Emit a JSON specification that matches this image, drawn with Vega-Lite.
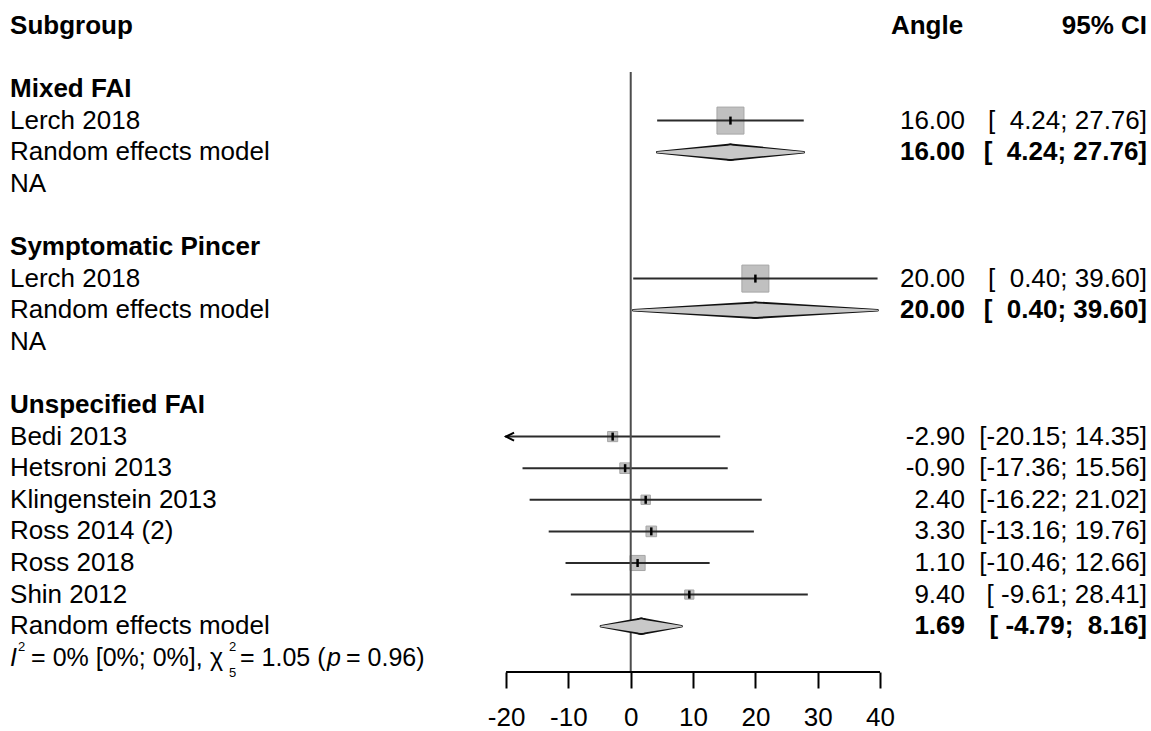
{
  "$schema": "https://vega.github.io/schema/vega-lite/v6.json",
  "width": 1151,
  "height": 672,
  "autosize": {"type": "none"},
  "padding": {"left": 0, "right": 0, "top": 0, "bottom": 59},
  "background": "white",
  "config": {
    "view": {"stroke": null},
    "font": "Liberation Sans",
    "locale": {"number": {"decimal": ".", "thousands": ",", "grouping": [3], "currency": ["$", ""], "minus": "-"}},
    "text": {"font": "Liberation Sans", "fontSize": 26, "color": "#000", "baseline": "middle"}
  },
  "data": {
    "values": [
      {"row": -2, "label": "Subgroup", "kind": "header", "angle": "Angle", "ci": "95% CI"},
      {"row": 0, "label": "Mixed FAI", "kind": "group"},
      {"row": 1, "label": "Lerch 2018", "kind": "study", "est": 16.0, "lower": 4.24, "upper": 27.76, "weight": 100, "ci": "[\u00a0 4.24; 27.76]"},
      {"row": 2, "label": "Random effects model", "kind": "model", "est": 16.0, "lower": 4.24, "upper": 27.76, "ci": "[\u00a0 4.24; 27.76]"},
      {"row": 3, "label": "NA", "kind": "na"},
      {"row": 5, "label": "Symptomatic Pincer", "kind": "group"},
      {"row": 6, "label": "Lerch 2018", "kind": "study", "est": 20.0, "lower": 0.40, "upper": 39.60, "weight": 100, "ci": "[\u00a0 0.40; 39.60]"},
      {"row": 7, "label": "Random effects model", "kind": "model", "est": 20.0, "lower": 0.40, "upper": 39.60, "ci": "[\u00a0 0.40; 39.60]"},
      {"row": 8, "label": "NA", "kind": "na"},
      {"row": 10, "label": "Unspecified FAI", "kind": "group"},
      {"row": 11, "label": "Bedi 2013", "kind": "study", "est": -2.90, "lower": -20.15, "upper": 14.35, "weight": 14.1, "ci": "[-20.15; 14.35]"},
      {"row": 12, "label": "Hetsroni 2013", "kind": "study", "est": -0.90, "lower": -17.36, "upper": 15.56, "weight": 15.5, "ci": "[-17.36; 15.56]"},
      {"row": 13, "label": "Klingenstein 2013", "kind": "study", "est": 2.40, "lower": -16.22, "upper": 21.02, "weight": 12.1, "ci": "[-16.22; 21.02]"},
      {"row": 14, "label": "Ross 2014 (2)", "kind": "study", "est": 3.30, "lower": -13.16, "upper": 19.76, "weight": 15.5, "ci": "[-13.16; 19.76]"},
      {"row": 15, "label": "Ross 2018", "kind": "study", "est": 1.10, "lower": -10.46, "upper": 12.66, "weight": 31.3, "ci": "[-10.46; 12.66]"},
      {"row": 16, "label": "Shin 2012", "kind": "study", "est": 9.40, "lower": -9.61, "upper": 28.41, "weight": 11.6, "ci": "[ -9.61; 28.41]"},
      {"row": 17, "label": "Random effects model", "kind": "model", "est": 1.69, "lower": -4.79, "upper": 8.16, "ci": "[ -4.79; \u00a08.16]"},
      {"row": 18, "kind": "het"}
    ]
  },
  "resolve": {"scale": {"size": "independent"}, "axis": {"x": "independent", "y": "independent"}},
  "layer": [
    {
      "transform": [{"filter": "datum.kind === 'study'"}],
      "mark": {"type": "point", "shape": "square", "filled": true, "fill": "#c0c0c0", "stroke": "#a6a6a6", "strokeWidth": 1, "opacity": 1},
      "encoding": {
        "x": {"field": "est", "type": "quantitative", "scale": {"domain": [-101.19, 83.47], "nice": false, "zero": false}, "axis": null},
        "y": {"field": "row", "type": "quantitative", "scale": {"domain": [-2.816, 18.45], "nice": false, "zero": false, "reverse": true}, "axis": null},
        "size": {"field": "weight", "type": "quantitative", "scale": {"domain": [0, 100], "range": [0, 729]}, "legend": null}
      }
    },
    {
      "transform": [{"filter": "datum.kind === 'study'"}],
      "mark": {"type": "rule", "color": "#2b2b2b", "strokeWidth": 2},
      "encoding": {
        "x": {"field": "lower", "type": "quantitative", "scale": {"domain": [-101.19, 83.47], "nice": false, "zero": false},
          "axis": {"values": [-20, -10, 0, 10, 20, 30, 40], "domain": false, "grid": false, "title": null, "tickSize": 16, "tickWidth": 2, "tickColor": "#000", "labelFontSize": 26, "labelFont": "Liberation Sans", "labelColor": "#000", "labelPadding": 16, "labelFlush": false, "labelOverlap": false, "format": "d"}},
        "x2": {"field": "upper"},
        "y": {"field": "row", "type": "quantitative", "scale": {"domain": [-2.816, 18.45], "nice": false, "zero": false, "reverse": true}, "axis": null}
      }
    },
    {
      "transform": [{"filter": "datum.kind === 'study' && datum.lower < -20"}],
      "mark": {"type": "point", "shape": "M2,-1L0,0L2,1", "filled": false, "stroke": "#000", "strokeWidth": 2, "size": 64, "opacity": 1},
      "encoding": {
        "x": {"datum": -20, "type": "quantitative", "axis": null},
        "y": {"field": "row", "type": "quantitative", "axis": null}
      }
    },
    {
      "transform": [{"filter": "datum.kind === 'header'"}],
      "mark": {"type": "rule", "color": "#4d4d4d", "strokeWidth": 2},
      "encoding": {
        "x": {"datum": 0, "type": "quantitative", "axis": null},
        "y": {"datum": -0.54, "type": "quantitative", "axis": null},
        "y2": {"datum": 18.45}
      }
    },
    {
      "transform": [{"filter": "datum.kind === 'header'"}],
      "mark": {"type": "rule", "color": "#000", "strokeWidth": 2},
      "encoding": {
        "x": {"datum": -20, "type": "quantitative", "axis": null},
        "x2": {"datum": 40},
        "y": {"datum": 18.45, "type": "quantitative", "axis": null}
      }
    },
    {
      "transform": [{"filter": "datum.kind === 'study'"}],
      "mark": {"type": "point", "shape": "M0,-1L0,1", "filled": false, "stroke": "#000", "strokeWidth": 2.5, "size": 64, "opacity": 1},
      "encoding": {
        "x": {"field": "est", "type": "quantitative", "axis": null},
        "y": {"field": "row", "type": "quantitative", "axis": null}
      }
    },
    {
      "transform": [{"filter": "datum.kind === 'model'"}, {"fold": ["lower", "est"], "as": ["key", "value"]}],
      "mark": {"type": "trail", "color": "#111111"},
      "encoding": {
        "x": {"field": "value", "type": "quantitative", "axis": null},
        "y": {"field": "row", "type": "quantitative", "axis": null},
        "detail": {"field": "row", "type": "nominal"},
        "order": {"field": "value", "type": "quantitative"},
        "size": {"field": "key", "type": "ordinal", "scale": {"domain": ["lower", "est"], "range": [2.5, 17.5]}, "legend": null}
      }
    },
    {
      "transform": [{"filter": "datum.kind === 'model'"}, {"fold": ["est", "upper"], "as": ["key", "value"]}],
      "mark": {"type": "trail", "color": "#111111"},
      "encoding": {
        "x": {"field": "value", "type": "quantitative", "axis": null},
        "y": {"field": "row", "type": "quantitative", "axis": null},
        "detail": {"field": "row", "type": "nominal"},
        "order": {"field": "value", "type": "quantitative"},
        "size": {"field": "key", "type": "ordinal", "scale": {"domain": ["upper", "est"], "range": [2.5, 17.5]}, "legend": null}
      }
    },
    {
      "transform": [{"filter": "datum.kind === 'model'"}, {"fold": ["lower", "est"], "as": ["key", "value"]}],
      "mark": {"type": "trail", "color": "#c8c8c8"},
      "encoding": {
        "x": {"field": "value", "type": "quantitative", "axis": null},
        "y": {"field": "row", "type": "quantitative", "axis": null},
        "detail": {"field": "row", "type": "nominal"},
        "order": {"field": "value", "type": "quantitative"},
        "size": {"field": "key", "type": "ordinal", "scale": {"domain": ["lower", "est"], "range": [0, 13.5]}, "legend": null}
      }
    },
    {
      "transform": [{"filter": "datum.kind === 'model'"}, {"fold": ["est", "upper"], "as": ["key", "value"]}],
      "mark": {"type": "trail", "color": "#c8c8c8"},
      "encoding": {
        "x": {"field": "value", "type": "quantitative", "axis": null},
        "y": {"field": "row", "type": "quantitative", "axis": null},
        "detail": {"field": "row", "type": "nominal"},
        "order": {"field": "value", "type": "quantitative"},
        "size": {"field": "key", "type": "ordinal", "scale": {"domain": ["upper", "est"], "range": [0, 13.5]}, "legend": null}
      }
    },
    {
      "transform": [{"filter": "datum.kind === 'study' || datum.kind === 'model' || datum.kind === 'na'"}],
      "mark": {"type": "text", "align": "left"},
      "encoding": {
        "x": {"datum": -99.58, "type": "quantitative", "axis": null},
        "y": {"field": "row", "type": "quantitative", "axis": null},
        "text": {"field": "label"}
      }
    },
    {
      "transform": [{"filter": "datum.kind === 'group' || datum.kind === 'header'"}],
      "mark": {"type": "text", "align": "left", "fontWeight": "bold"},
      "encoding": {
        "x": {"datum": -99.58, "type": "quantitative", "axis": null},
        "y": {"field": "row", "type": "quantitative", "axis": null},
        "text": {"field": "label"}
      }
    },
    {
      "transform": [{"filter": "datum.kind === 'study'"}],
      "mark": {"type": "text", "align": "right"},
      "encoding": {
        "x": {"datum": 53.63, "type": "quantitative", "axis": null},
        "y": {"field": "row", "type": "quantitative", "axis": null},
        "text": {"field": "est", "format": ".2f"}
      }
    },
    {
      "transform": [{"filter": "datum.kind === 'model'"}],
      "mark": {"type": "text", "align": "right", "fontWeight": "bold"},
      "encoding": {
        "x": {"datum": 53.63, "type": "quantitative", "axis": null},
        "y": {"field": "row", "type": "quantitative", "axis": null},
        "text": {"field": "est", "format": ".2f"}
      }
    },
    {
      "transform": [{"filter": "datum.kind === 'header'"}],
      "mark": {"type": "text", "align": "right", "fontWeight": "bold"},
      "encoding": {
        "x": {"datum": 53.33, "type": "quantitative", "axis": null},
        "y": {"field": "row", "type": "quantitative", "axis": null},
        "text": {"field": "angle"}
      }
    },
    {
      "transform": [{"filter": "datum.kind === 'study'"}],
      "mark": {"type": "text", "align": "right"},
      "encoding": {
        "x": {"datum": 82.83, "type": "quantitative", "axis": null},
        "y": {"field": "row", "type": "quantitative", "axis": null},
        "text": {"field": "ci"}
      }
    },
    {
      "transform": [{"filter": "datum.kind === 'model' || datum.kind === 'header'"}],
      "mark": {"type": "text", "align": "right", "fontWeight": "bold"},
      "encoding": {
        "x": {"datum": 82.83, "type": "quantitative", "axis": null},
        "y": {"field": "row", "type": "quantitative", "axis": null},
        "text": {"field": "ci"}
      }
    },
    {
      "transform": [{"filter": "datum.kind === 'het'"}],
      "mark": {"type": "text", "align": "left", "fontStyle": "italic", "fontSize": 25, "text": "I"},
      "encoding": {
        "x": {"datum": -99.58, "type": "quantitative", "axis": null},
        "y": {"field": "row", "type": "quantitative", "axis": null}
      }
    },
    {
      "transform": [{"filter": "datum.kind === 'het'"}],
      "mark": {"type": "text", "align": "left", "fontSize": 13, "text": "2"},
      "encoding": {
        "x": {"datum": -98.29, "type": "quantitative", "axis": null},
        "y": {"datum": 17.665, "type": "quantitative", "axis": null}
      }
    },
    {
      "transform": [{"filter": "datum.kind === 'het'"}],
      "mark": {"type": "text", "align": "left", "fontSize": 25, "text": "= 0% [0%; 0%],"},
      "encoding": {
        "x": {"datum": -96.2, "type": "quantitative", "axis": null},
        "y": {"field": "row", "type": "quantitative", "axis": null}
      }
    },
    {
      "transform": [{"filter": "datum.kind === 'het'"}],
      "mark": {"type": "text", "align": "left", "fontSize": 25, "text": "χ"},
      "encoding": {
        "x": {"datum": -67.49, "type": "quantitative", "axis": null},
        "y": {"field": "row", "type": "quantitative", "axis": null}
      }
    },
    {
      "transform": [{"filter": "datum.kind === 'het'"}],
      "mark": {"type": "text", "align": "left", "fontSize": 13, "text": "2"},
      "encoding": {
        "x": {"datum": -64.44, "type": "quantitative", "axis": null},
        "y": {"datum": 17.665, "type": "quantitative", "axis": null}
      }
    },
    {
      "transform": [{"filter": "datum.kind === 'het'"}],
      "mark": {"type": "text", "align": "left", "fontSize": 13, "text": "5"},
      "encoding": {
        "x": {"datum": -64.44, "type": "quantitative", "axis": null},
        "y": {"datum": 18.475, "type": "quantitative", "axis": null}
      }
    },
    {
      "transform": [{"filter": "datum.kind === 'het'"}],
      "mark": {"type": "text", "align": "left", "fontSize": 25, "text": "= 1.05 ("},
      "encoding": {
        "x": {"datum": -62.68, "type": "quantitative", "axis": null},
        "y": {"field": "row", "type": "quantitative", "axis": null}
      }
    },
    {
      "transform": [{"filter": "datum.kind === 'het'"}],
      "mark": {"type": "text", "align": "left", "fontStyle": "italic", "fontSize": 25, "text": "p"},
      "encoding": {
        "x": {"datum": -48.72, "type": "quantitative", "axis": null},
        "y": {"field": "row", "type": "quantitative", "axis": null}
      }
    },
    {
      "transform": [{"filter": "datum.kind === 'het'"}],
      "mark": {"type": "text", "align": "left", "fontSize": 25, "text": "= 0.96)"},
      "encoding": {
        "x": {"datum": -45.68, "type": "quantitative", "axis": null},
        "y": {"field": "row", "type": "quantitative", "axis": null}
      }
    }
  ]
}
